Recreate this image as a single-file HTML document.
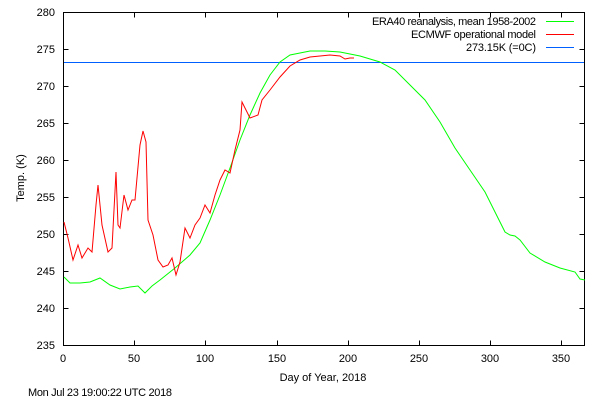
<!DOCTYPE html>
<html><head><style>body{margin:0;background:#fff}</style></head><body>
<svg width="600" height="400" xmlns="http://www.w3.org/2000/svg" font-family="Liberation Sans, sans-serif" font-size="11">
<rect width="600" height="400" fill="#fff"/>
<g stroke="#000" stroke-width="1" fill="none">
<rect x="63.5" y="12.5" width="521" height="333"/>
<path d="M63.5 49.5h5M63.5 86.5h5M63.5 123.5h5M63.5 160.5h5M63.5 197.5h5M63.5 234.5h5M63.5 271.5h5M63.5 308.5h5
M584.5 49.5h-5M584.5 86.5h-5M584.5 123.5h-5M584.5 160.5h-5M584.5 197.5h-5M584.5 234.5h-5M584.5 271.5h-5M584.5 308.5h-5
M134.5 345.5v-5M205.5 345.5v-5M277.5 345.5v-5M348.5 345.5v-5M419.5 345.5v-5M490.5 345.5v-5M561.5 345.5v-5
M134.5 12.5v5M205.5 12.5v5M277.5 12.5v5M348.5 12.5v5M419.5 12.5v5M490.5 12.5v5M561.5 12.5v5"/>
</g>
<g text-anchor="end">
<text x="55" y="16">280</text><text x="55" y="53">275</text><text x="55" y="90">270</text><text x="55" y="127">265</text>
<text x="55" y="164">260</text><text x="55" y="201">255</text><text x="55" y="238">250</text><text x="55" y="275">245</text>
<text x="55" y="312">240</text><text x="55" y="349">235</text>
</g>
<g text-anchor="middle">
<text x="63" y="362">0</text><text x="134" y="362">50</text><text x="205" y="362">100</text><text x="277" y="362">150</text>
<text x="348" y="362">200</text><text x="419" y="362">250</text><text x="490" y="362">300</text><text x="561" y="362">350</text>
<text x="323" y="381">Day of Year, 2018</text>
<text transform="translate(24,178) rotate(-90)">Temp. (K)</text>
</g>
<text x="28" y="396" textLength="144">Mon Jul 23 19:00:22 UTC 2018</text>
<g text-anchor="end">
<text x="536" y="25" textLength="164">ERA40 reanalysis, mean 1958-2002</text>
<text x="536" y="38" textLength="125">ECMWF operational model</text>
<text x="536" y="51" textLength="70">273.15K (=0C)</text>
</g>
<path d="M546 21.5h28" stroke="#00ff00"/>
<path d="M546 34.5h28" stroke="#ff0000"/>
<path d="M546 47.5h28" stroke="#0060ff"/>
<path d="M64 62.5H584" stroke="#0060ff" stroke-width="1"/>
<polyline fill="none" stroke="#00ff00" stroke-width="1" points="64,277 70,283 80,283 90,282 100,278 110,285 120,289 130,287 138,286 145,293 152,286 160,280 175,268 190,255 200,243 210,220 220,195 230,168 240,140 250,115 260,93 270,75 280,62 290,55 300,53 310,51 325,51 340,52 350,54 360,56 370,59 380,62 395,70 410,85 425,100 440,122 455,148 470,170 485,192 500,222 505,232 510,235 515,236 520,240 530,253 545,262 560,268 575,272 580,279 585,280"/>
<polyline fill="none" stroke="#ff0000" stroke-width="1" points="64,222 68,238 73,260 78,245 82,258 88,248 92,252 96,205 98,185 102,225 108,252 112,248 116,172 118,225 120,228 124,195 128,210 132,200 135,200 140,145 143,131 146,142 148,220 153,235 158,260 163,267 168,265 172,258 176,275 180,262 185,228 190,238 195,225 200,218 205,205 210,213 215,195 220,180 225,170 230,173 235,150 240,130 242,102 246,110 250,118 258,115 262,100 270,90 280,77 290,66 300,60 310,57 320,56 330,55 340,56 345,59 350,58 354,58"/>
</svg>
</body></html>
